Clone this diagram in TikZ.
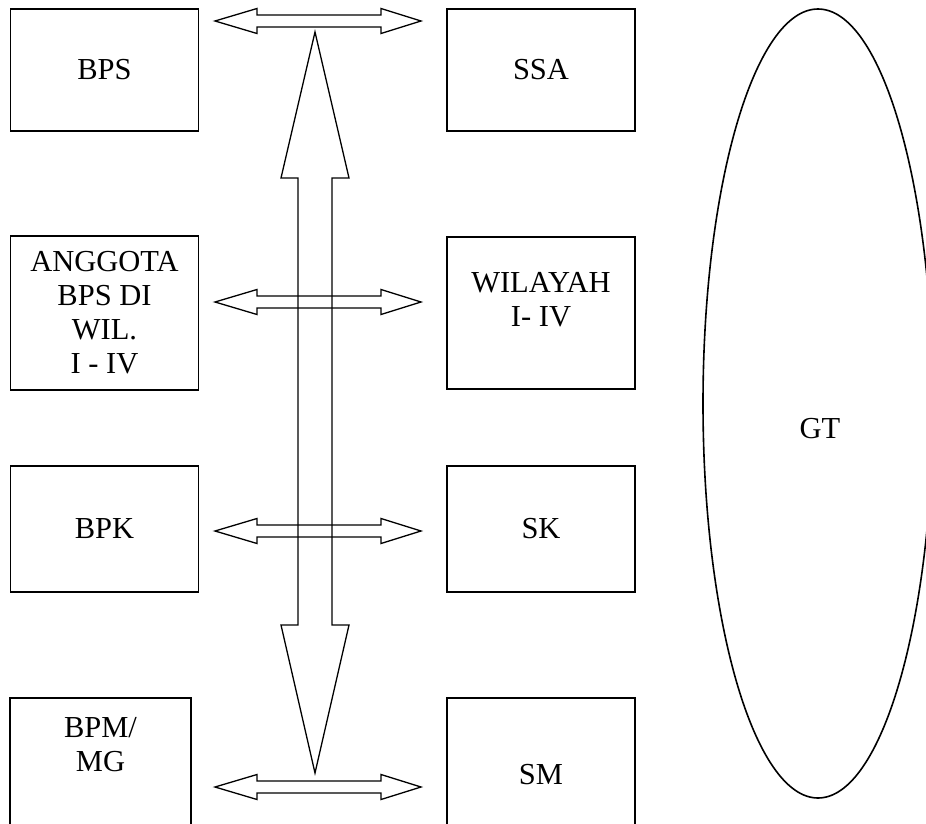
\documentclass[tikz,border=0pt]{standalone}
\usepackage{fontspec}
\setmainfont{Liberation Serif}
\usetikzlibrary{shapes.geometric}

\begin{document}
\begin{tikzpicture}[x=1pt, y=-1pt, line join=miter,
  every node/.style={font=\fontsize{30.5}{34}\selectfont, inner sep=0pt},
  box/.style={draw, line width=1.6pt, minimum width=188pt, align=center},
  blockarrow/.style={draw, line width=1.3pt}]
  \useasboundingbox (0,0) rectangle (926,824);
  \clip (0,0) rectangle (926,824);

  % left column
  \node[box, minimum height=122pt] (bps) at (104.5,70) {BPS};
  \node[box, minimum height=154pt] (anggota) at (104.5,313) {ANGGOTA\\BPS DI\\WIL.\\I - IV};
  \node[box, minimum height=126pt] (bpk) at (104.5,529) {BPK};
  \node[box, minimum width=181pt, minimum height=160pt, anchor=north] (bpm) at (100.5,697) {};
  \node[anchor=north, align=center] (bpmtext) at ([yshift=-20pt]bpm.north) {BPM/\\MG};

  % right column
  \node[box, minimum height=122pt] (ssa) at (541,70) {SSA};
  \node[box, minimum height=152pt] (wilayah) at (541,313) {};
  \node[align=center] (wiltext) at (541,300) {WILAYAH\\I- IV};
  \node[box, minimum height=126pt] (sk) at (541,529) {SK};
  \node[box, minimum height=160pt, anchor=north] (sm) at (541,697) {};
  \node (smtext) at (541,775) {SM};

  % GT
  \node[draw, ellipse, line width=1.6pt, minimum width=230pt, minimum height=789pt] (gt) at (818,403.5) {};
  \node (gttext) at (820,429) {GT};

  % block arrows
  \coordinate (h1) at (215,21);
  \coordinate (h2) at (215,302);
  \coordinate (h3) at (215,531);
  \coordinate (h4) at (215,787);
  \coordinate (v1) at (315,32);
  \draw[blockarrow] (h1) -- ++(42,-12.5) -- ++(0,6.5) -- ++(124,0) -- ++(0,-6.5) -- ++(40,12.5) -- ++(-40,12.5) -- ++(0,-6.5) -- ++(-124,0) -- ++(0,6.5) -- cycle;
  \draw[blockarrow] (h2) -- ++(42,-12.5) -- ++(0,6.5) -- ++(124,0) -- ++(0,-6.5) -- ++(40,12.5) -- ++(-40,12.5) -- ++(0,-6.5) -- ++(-124,0) -- ++(0,6.5) -- cycle;
  \draw[blockarrow] (h3) -- ++(42,-12.5) -- ++(0,6.5) -- ++(124,0) -- ++(0,-6.5) -- ++(40,12.5) -- ++(-40,12.5) -- ++(0,-6.5) -- ++(-124,0) -- ++(0,6.5) -- cycle;
  \draw[blockarrow] (h4) -- ++(42,-12.5) -- ++(0,6.5) -- ++(124,0) -- ++(0,-6.5) -- ++(40,12.5) -- ++(-40,12.5) -- ++(0,-6.5) -- ++(-124,0) -- ++(0,6.5) -- cycle;
  \draw[blockarrow] (v1) -- ++(34,146) -- ++(-17,0) -- ++(0,447) -- ++(17,0) -- ++(-34,148) -- ++(-34,-148) -- ++(17,0) -- ++(0,-447) -- ++(-17,0) -- cycle;
\end{tikzpicture}
\end{document}
